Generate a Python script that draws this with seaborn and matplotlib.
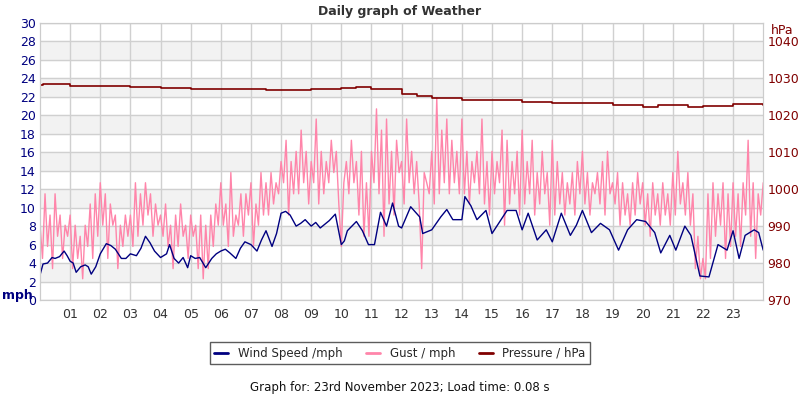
import seaborn as sns
import pandas as pd
import matplotlib.pyplot as plt
from matplotlib.lines import Line2D

# Wind speed (mph) at irregular hours
wind_hours = [0.0, 0.1, 0.25, 0.4, 0.5, 0.65, 0.8, 0.9, 1.0, 1.1, 1.2, 1.35, 1.5, 1.6, 1.7, 1.85,
              2.0, 2.2, 2.35, 2.5, 2.7, 2.85, 3.0, 3.2, 3.35, 3.5, 3.65, 3.8, 4.0, 4.2, 4.3, 4.45,
              4.6, 4.75, 4.9, 5.0, 5.15, 5.3, 5.5, 5.7, 5.85, 6.0, 6.15, 6.3, 6.5, 6.65, 6.8, 7.0,
              7.2, 7.35, 7.5, 7.7, 7.85, 8.0, 8.15, 8.3, 8.5, 8.65, 8.8, 9.0, 9.15, 9.3, 9.45, 9.6,
              9.8, 10.0, 10.1, 10.2, 10.35, 10.5, 10.7, 10.9, 11.1, 11.3, 11.5, 11.7, 11.9, 12.0,
              12.3, 12.6, 12.7, 13.0, 13.3, 13.5, 13.7, 14.0, 14.1, 14.3, 14.5, 14.8, 15.0, 15.3,
              15.5, 15.8, 16.0, 16.2, 16.5, 16.8, 17.0, 17.3, 17.6, 17.8, 18.0, 18.3, 18.6, 18.9,
              19.2, 19.5, 19.8, 20.1, 20.4, 20.6, 20.9, 21.1, 21.4, 21.6, 21.9, 22.2, 22.5, 22.8,
              23.0, 23.2, 23.4, 23.7, 23.85, 24.0]
wind_speed = [2.7, 3.9, 4.0, 4.6, 4.5, 4.7, 5.3, 4.8, 4.2, 4.0, 3.0, 3.6, 3.8, 3.6, 2.8, 3.6,
              5.0, 6.1, 5.9, 5.5, 4.5, 4.5, 5.0, 4.8, 5.6, 6.9, 6.2, 5.3, 4.6, 5.0, 6.0, 4.5,
              4.0, 4.6, 3.5, 4.8, 4.5, 4.6, 3.5, 4.5, 5.0, 5.3, 5.5, 5.1, 4.5, 5.6, 6.3, 6.0,
              5.3, 6.5, 7.5, 5.8, 7.2, 9.4, 9.6, 9.2, 8.0, 8.3, 8.7, 8.0, 8.4, 7.8, 8.2, 8.6,
              9.3, 6.0, 6.4, 7.5, 8.0, 8.5, 7.5, 6.0, 6.0, 9.5, 8.0, 10.5, 8.0, 7.8,
              10.1, 9.0, 7.2, 7.6, 9.0, 9.8, 8.7, 8.7, 11.2, 10.2, 8.7, 9.7, 7.2, 8.7,
              9.7, 9.7, 7.6, 9.4, 6.5, 7.6, 6.3, 9.4, 7.0, 8.1, 9.7, 7.3, 8.3, 7.6,
              5.4, 7.6, 8.7, 8.5, 7.3, 5.1, 7.0, 5.4, 8.0, 7.0, 2.6, 2.5, 6.0, 5.4,
              7.5, 4.5, 7.0, 7.6, 7.3, 5.4]

# Gust (mph), one reading per 5 minutes
gust_speed = [8.1, 4.5, 11.5, 5.8, 9.2, 3.4,      # 00
              11.5, 6.9, 9.2, 4.5, 8.1, 6.9,
              9.2, 3.4, 8.1, 4.5, 6.9, 2.3,      # 01
              8.1, 5.8, 10.4, 4.5, 11.5, 6.9,
              12.7, 8.1, 11.5, 4.5, 10.4, 8.1,   # 02
              9.2, 3.4, 8.1, 5.8, 9.2, 6.9,
              9.2, 5.8, 12.7, 6.9, 11.5, 8.1,    # 03
              12.7, 9.2, 11.5, 6.9, 10.4, 8.1,
              9.2, 6.9, 10.4, 5.8, 8.1, 3.4,     # 04
              9.2, 5.8, 10.4, 6.9, 8.1, 4.5,
              9.2, 6.9, 8.1, 3.4, 9.2, 2.3,      # 05
              8.1, 3.4, 9.2, 5.8, 10.4, 8.1,
              12.7, 8.1, 10.4, 5.8, 13.8, 6.9,   # 06
              9.2, 8.1, 11.5, 6.9, 11.5, 9.2,
              12.7, 5.8, 10.4, 8.1, 13.8, 9.2,   # 07
              12.7, 9.2, 13.8, 10.4, 12.7, 11.5,
              15.0, 12.7, 17.3, 9.2, 15.0, 11.5, # 08
              16.1, 11.5, 18.4, 12.7, 16.1, 10.4,
              15.0, 12.7, 19.6, 10.4, 16.1, 11.5,# 09
              15.0, 12.7, 17.3, 13.8, 16.1, 10.4,
              5.8, 12.7, 15.0, 11.5, 17.3, 12.7, # 10
              15.0, 9.2, 16.1, 6.9, 12.7, 6.9,
              16.1, 12.7, 20.7, 11.5, 18.4, 6.9, # 11
              19.6, 10.4, 16.1, 9.2, 17.3, 13.8,
              15.0, 10.4, 19.6, 12.7, 16.1, 11.5,# 12
              15.0, 10.4, 3.4, 13.8, 12.7, 11.5,
              16.1, 10.4, 21.9, 11.5, 18.4, 12.7,# 13
              19.6, 11.5, 17.3, 12.7, 16.1, 11.5,
              19.6, 11.5, 16.1, 10.4, 15.0, 12.7,# 14
              16.1, 11.5, 19.6, 10.4, 15.0, 9.2,
              16.1, 11.5, 15.0, 12.7, 18.4, 8.1, # 15
              17.3, 10.4, 15.0, 11.5, 16.1, 9.2,
              18.4, 10.4, 15.0, 11.5, 17.3, 9.2, # 16
              13.8, 10.4, 16.1, 11.5, 13.8, 8.1,
              17.3, 9.2, 15.0, 10.4, 13.8, 9.2,  # 17
              12.7, 10.4, 13.8, 9.2, 15.0, 11.5,
              16.1, 10.4, 13.8, 9.2, 12.7, 11.5, # 18
              13.8, 10.4, 15.0, 9.2, 16.1, 11.5,
              12.7, 10.4, 13.8, 8.1, 12.7, 9.2,  # 19
              11.5, 8.1, 12.7, 9.2, 13.8, 10.4,
              12.7, 8.1, 11.5, 6.9, 12.7, 9.2,   # 20
              11.5, 8.1, 12.7, 9.2, 11.5, 8.1,
              13.8, 9.2, 16.1, 10.4, 12.7, 9.2,  # 21
              13.8, 8.1, 11.5, 3.4, 6.9, 2.3,
              4.5, 2.3, 11.5, 4.5, 12.7, 6.9,    # 22
              11.5, 8.1, 12.7, 4.5, 11.5, 5.8,
              12.7, 6.9, 11.5, 5.8, 12.7, 9.2,   # 23
              17.3, 6.9, 12.7, 4.5, 11.5, 9.2,
              12.7]
gust_hours = [i / 12 for i in range(len(gust_speed))]

# Pressure (hPa)
pres_hours = [0.0, 0.1, 1.0, 2.0, 3.0, 4.0, 5.0, 6.0, 7.0, 7.5, 8.0, 9.0, 10.0, 10.5, 11.0,
              12.0, 12.5, 13.0, 14.0, 15.0, 16.0, 17.0, 18.0, 19.0, 20.0, 20.5, 21.0, 21.5,
              22.0, 23.0, 24.0]
pressure = [1028.2, 1028.4, 1028.0, 1027.9, 1027.7, 1027.4, 1027.2, 1027.2, 1027.0, 1026.8,
            1026.8, 1027.1, 1027.4, 1027.7, 1027.0, 1025.8, 1025.2, 1024.8, 1024.2, 1024.2,
            1023.5, 1023.3, 1023.4, 1022.9, 1022.2, 1022.8, 1022.8, 1022.3, 1022.6, 1023.0,
            1022.8]

hour_labels = ['%02d' % h for h in range(1, 24)]

plt.rcParams['font.family'] = 'DejaVu Sans Mono'
sns.set_style('white')

fig = plt.figure(figsize=(8, 4), dpi=100)
ax = fig.add_axes([0.05, 0.25, 0.904, 0.6925])

for lo in range(2, 30, 4):
    ax.axhspan(lo, lo + 2, color='#f2f2f2', zorder=0)

gust_df = pd.DataFrame({'h': gust_hours, 'v': gust_speed})
wind_df = pd.DataFrame({'h': wind_hours, 'v': wind_speed})
sns.lineplot(data=gust_df, x='h', y='v', ax=ax, color='#ff85aa', lw=1, zorder=2)
sns.lineplot(data=wind_df, x='h', y='v', ax=ax, color='#000080', lw=1, zorder=3)

ax.set_xlim(0, 24)
ax.set_ylim(0, 30)
ax.set_yticks(range(0, 31, 2))
ax.set_xticks(range(1, 24))
ax.set_xticklabels(hour_labels)
ax.grid(True, color='#d0d0d0', lw=1)
ax.set_axisbelow(True)
ax.tick_params(axis='y', colors='#000080', labelsize=9, length=0, pad=3)
ax.tick_params(axis='x', colors='#333333', labelsize=9, length=0, pad=6)
ax.set_xlabel('')
ax.set_ylabel('')
for s in ax.spines.values():
    s.set_color('#cccccc')

ax2 = ax.twinx()
pres_df = pd.DataFrame({'h': pres_hours, 'v': pressure})
sns.lineplot(data=pres_df, x='h', y='v', ax=ax2, color='#800000', lw=1.2, drawstyle='steps-post')
ax2.set_ylim(970, 1045)
ax2.set_yticks(range(970, 1041, 10))
ax2.tick_params(axis='y', colors='#800000', labelsize=9, length=0, pad=3)
ax2.set_ylabel('')
for s in ax2.spines.values():
    s.set_color('#cccccc')

fig.text(0.5, 0.97, 'Daily graph of Weather', ha='center', va='center',
         fontsize=9, fontweight='bold', color='#333333')
fig.text(0.003, 0.262, 'mph', ha='left', va='center', fontsize=9,
         fontweight='bold', color='#000080')
fig.text(0.978, 0.925, 'hPa', ha='center', va='center', fontsize=9, color='#800000')

handles = [Line2D([], [], color='#000080', lw=2),
           Line2D([], [], color='#ff85aa', lw=2),
           Line2D([], [], color='#800000', lw=2)]
fig.legend(handles, ['Wind Speed /mph', 'Gust / mph', 'Pressure / hPa'],
           loc='center', bbox_to_anchor=(0.5, 0.117), ncol=3,
           frameon=True, fancybox=False, edgecolor='#333333', handlelength=1.2,
           columnspacing=2.0, prop={'family': 'DejaVu Sans', 'size': 8.5})
fig.text(0.5, 0.032, 'Graph for: 23rd November 2023; Load time: 0.08 s', ha='center',
         va='center', fontsize=8.5, color='#111111', family='DejaVu Sans')

fig.savefig('out.png', dpi=100)
